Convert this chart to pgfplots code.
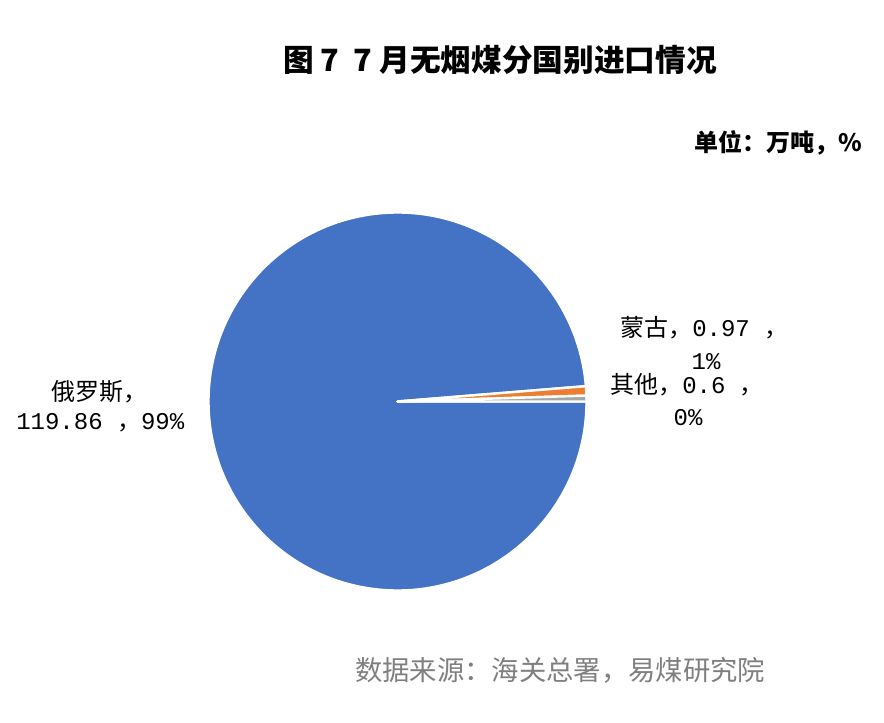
\documentclass[border=0pt]{standalone}
\usepackage{pgfplots}
\usepackage{pgfplotstable}
\pgfplotsset{compat=1.18}
\usepackage{fontspec}
\setmainfont{Noto Sans CJK SC}
\newfontfamily\cjk{Noto Sans CJK SC}
\newfontfamily\mono{Liberation Mono}
\IfFontExistsTF{Noto Sans CJK SC Black}
  {\newfontfamily\cjktitle{Noto Sans CJK SC Black}}
  {\newfontfamily\cjktitle{Noto Sans CJK SC}[FakeBold=1.5]}
\definecolor{pblue}{HTML}{4472C4}
\definecolor{porange}{HTML}{ED7D31}
\definecolor{pgray}{HTML}{A5A5A5}
\definecolor{srcgray}{HTML}{7F7F7F}

\pgfplotstableread{
name value
Russia 119.86
Mongolia 0.97
Other 0.6
}\piedata

\begin{document}
\begin{tikzpicture}
\pgfplotstablegetelem{0}{value}\of\piedata \let\va\pgfplotsretval
\pgfplotstablegetelem{1}{value}\of\piedata \let\vb\pgfplotsretval
\pgfplotstablegetelem{2}{value}\of\piedata \let\vc\pgfplotsretval
\pgfmathsetmacro\tot{\va+\vb+\vc}
\pgfmathsetmacro\fa{\va/\tot}
\pgfmathsetmacro\fb{\vb/\tot}
\pgfmathsetmacro\aA{-360*\fa}
\pgfmathsetmacro\aB{\aA-360*\fb}
\begin{axis}[
  x=0.75pt, y=0.75pt,
  xmin=0, xmax=884, ymin=0, ymax=722,
  hide axis, clip=false,
]
\path (axis cs:0,0) rectangle (axis cs:884,722);
% slices (center 397.5,320.5 ; radius 189px = 141.75pt)
\fill[pblue, draw=white, line width=1.8pt, line join=round]
  (axis cs:397.5,320.5) -- ([shift={(0:141.75pt)}]axis cs:397.5,320.5)
  arc[start angle=0, end angle=\aA, radius=141.75pt] -- cycle;
\fill[porange, draw=white, line width=1.8pt, line join=round]
  (axis cs:397.5,320.5) -- ([shift={(\aA:141.75pt)}]axis cs:397.5,320.5)
  arc[start angle=\aA, end angle=\aB, radius=141.75pt] -- cycle;
\fill[pgray, draw=white, line width=1.8pt, line join=round]
  (axis cs:397.5,320.5) -- ([shift={(\aB:141.75pt)}]axis cs:397.5,320.5)
  arc[start angle=\aB, end angle=-360, radius=141.75pt] -- cycle;

% title and unit
\node[font=\cjktitle\fontsize{23}{27}\selectfont] at (axis cs:500,662) {图 7\ \ 7 月无烟煤分国别进口情况};
\node[anchor=east, font=\cjk\bfseries\fontsize{18}{21}\selectfont] at (axis cs:867,579) {单位：万吨，\%};

% data labels
\node[anchor=west, inner sep=0pt] at (axis cs:620,394) {\fontsize{18}{20}\selectfont{\cjk 蒙古，}{\mono 0.97 }{\cjk ，}};
\node[inner sep=0pt] at (axis cs:706,360) {\fontsize{18}{20}\selectfont\mono 1\%};
\node[anchor=west, inner sep=0pt] at (axis cs:610,337) {\fontsize{18}{20}\selectfont{\cjk 其他，}{\mono 0.6 }{\cjk ，}};
\node[inner sep=0pt] at (axis cs:688,304) {\fontsize{18}{20}\selectfont\mono 0\%};
\node[anchor=west, inner sep=0pt] at (axis cs:51,330) {\fontsize{18}{20}\selectfont\cjk 俄罗斯，};
\node[anchor=west, inner sep=0pt] at (axis cs:16,299) {\fontsize{18}{20}\selectfont{\mono 119.86 }{\cjk ，}{\mono 99\%}};

% source
\node[text=srcgray, font=\cjk\fontsize{20.5}{23}\selectfont] at (axis cs:560,52) {数据来源：海关总署，易煤研究院};
\end{axis}
\end{tikzpicture}
\end{document}
